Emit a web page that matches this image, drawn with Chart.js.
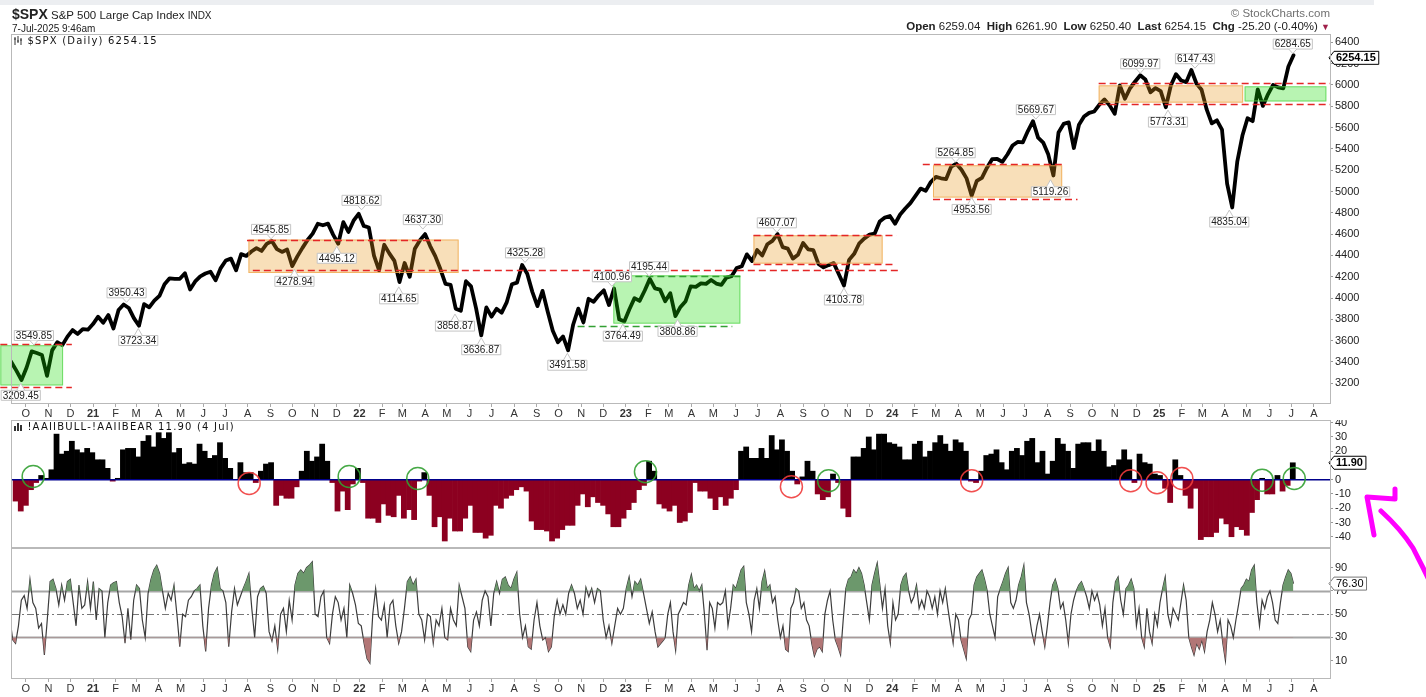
<!DOCTYPE html>
<html>
<head>
<meta charset="utf-8">
<title>$SPX</title>
<script src="https://cdn.jsdelivr.net/npm/chart.js@4.4.1/dist/chart.umd.min.js"></script>
<style>
  body { margin: 0; width: 1426px; height: 697px; overflow: hidden; background: #fff; position: relative;
         font-family: "Liberation Sans", Arial, sans-serif; color: #222; }
  canvas { position: absolute; left: 0; }
  .t { position: absolute; white-space: nowrap; line-height: 1; z-index: 2; }
  .leg { font-family: "DejaVu Sans", Verdana, sans-serif; font-size: 10px; letter-spacing: 1.2px; color: #111; }
</style>
</head>
<body>
<div style="position:absolute;left:0;top:0;width:1374px;height:5px;background:#eceef1"></div>
<div class="t" style="left:12px;top:7px;font-size:11.5px"><b style="font-size:14px">$SPX</b> S&amp;P 500 Large Cap Index <span style="font-size:10px">INDX</span></div>
<div class="t" style="left:12px;top:24px;font-size:10px">7-Jul-2025 9:46am</div>
<div class="t" style="right:96px;top:8px;font-size:11.5px;color:#707070">© StockCharts.com</div>
<div class="t" style="right:96px;top:21px;font-size:11.5px"><b>Open</b> 6259.04 &nbsp;<b>High</b> 6261.90 &nbsp;<b>Low</b> 6250.40 &nbsp;<b>Last</b> 6254.15 &nbsp;<b>Chg</b> -25.20 (-0.40%) <span style="color:#a0204a;font-size:9px">&#9660;</span></div>

<canvas id="c1" width="1426" height="420" style="top:0"></canvas>
<canvas id="c2" width="1426" height="128" style="top:420px"></canvas>
<canvas id="c3" width="1426" height="148" style="top:548px"></canvas>

<div class="t leg" style="left:14px;top:36px"><svg width="9" height="9" style="vertical-align:-1px"><path d="M1 1v8M4 0v7M7 2v7M0 3h2M3 5h2M6 4h2" stroke="#333" fill="none"/></svg> $SPX (Daily) 6254.15</div>
<div class="t leg" style="left:14px;top:422px"><svg width="9" height="9" style="vertical-align:-1px"><path d="M1 9V4M4 9V1M7 9V3" stroke="#333" stroke-width="2" fill="none"/></svg> !AAIIBULL-!AAIIBEAR 11.90 (4 Jul)</div>

<svg style="position:absolute;left:0;top:0;z-index:3" width="1426" height="697">
  <g fill="none" stroke="#ff00ff" stroke-width="5" stroke-linecap="round" stroke-linejoin="round">
    <path d="M1395,489 L1395,499 L1367,497 L1374,535"/>
    <path d="M1381,511 C1392,521 1404,534 1413,548 C1418,558 1423,567 1428,578"/>
  </g>
</svg>

<script>
// ---- data ----
const priceStart = '2020-09-11';          // first weekly value, then one value per week
const priceWeekly = [
  3400, 3319, 3230, 3348, 3500, 3484, 3465, 3270, 3509, 3585, 3558, 3638, 3699, 3663, 3709, 3703, 3756,
  3825, 3768, 3841, 3714, 3887, 3940, 3907, 3811, 3740, 3943, 3913, 3975, 4020, 4129, 4185, 4180, 4181,
  4233, 4080, 4156, 4204, 4230, 4247, 4166, 4281, 4352, 4370, 4260, 4412, 4395, 4437, 4468, 4442, 4509,
  4535, 4459, 4433, 4455, 4300, 4391, 4471, 4545, 4605, 4697, 4683, 4698, 4595, 4510, 4712, 4620, 4726, 4790,
  4677, 4662, 4398, 4260, 4500, 4419, 4349, 4150, 4329, 4200, 4463, 4543, 4600, 4488, 4393, 4272, 4132,
  4123, 3900, 3880, 4158, 4109, 3901, 3650, 3912, 3825, 3899, 3863, 3962, 4130, 4145, 4310, 4228, 4058,
  3924, 4067, 3873, 3693, 3586, 3640, 3510, 3752, 3901, 3771, 3993, 3965, 4026, 4072, 3934, 4090, 3800, 3780,
  3895, 3999, 3973, 4071, 4180, 4090, 4079, 3970, 4046, 3830, 3917, 3971, 4109, 4105, 4138, 4133, 4169,
  4136, 4124, 4192, 4205, 4282, 4299, 4410, 4348, 4450, 4399, 4505, 4536, 4600, 4478, 4464, 4370, 4406,
  4516, 4457, 4450, 4320, 4288, 4309, 4328, 4224, 4117, 4358, 4415, 4514, 4559, 4595, 4604, 4719, 4755, 4770,
  4697, 4784, 4840, 4891, 4959, 5027, 5006, 5089, 5137, 5124, 5117, 5234, 5260, 5204, 5123, 4960, 5100,
  5128, 5223, 5303, 5305, 5278, 5347, 5431, 5465, 5460, 5567, 5660, 5505, 5459, 5346, 5150, 5554, 5634,
  5648, 5408, 5626, 5703, 5738, 5751, 5815, 5864, 5808, 5729, 5995, 5870, 5969, 6032, 6090, 6051, 5931, 5971,
  5942, 5790, 5997, 6101, 6041, 6026, 6140, 6013, 5955, 5770, 5639, 5668, 5581, 5074, 4850, 5283, 5525,
  5687, 5660, 5958, 5803, 5912, 6000, 5977, 5968, 6173, 6279
];
const priceLast = 6254.15;
const priceTicks = [3200, 3400, 3600, 3800, 4000, 4200, 4400, 4600, 4800, 5000, 5200, 5400, 5600, 5800, 6000, 6200, 6400];

const pivotDates = ['2020-09-24','2020-10-12','2021-02-16','2021-03-04','2021-09-02','2021-10-04','2021-12-01',
  '2022-01-04','2022-02-24','2022-03-29','2022-05-12','2022-06-17','2022-08-16','2022-10-13','2022-12-13',
  '2022-12-28','2023-02-02','2023-03-13','2023-07-27','2023-10-27','2024-03-28','2024-04-19','2024-07-16',
  '2024-08-05','2024-12-06','2025-01-13','2025-02-19','2025-04-07','2025-07-03'];
const pivotValues = [3209.45, 3549.85, 3950.43, 3723.34, 4545.85, 4278.94, 4495.12, 4818.62, 4114.65, 4637.30,
  3858.87, 3636.87, 4325.28, 3491.58, 4100.96, 3764.49, 4195.44, 3808.86, 4607.07, 4103.78, 5264.85, 4953.56,
  5669.67, 5119.26, 6099.97, 5773.31, 6147.43, 4835.04, 6284.65];
const pivotSide = ['L','H','H','L','H','L','L','H','L','H','L','L','H','L','H','L','H','L','H','L','H','L','H','L','H','L','H','L','H'];

// shaded zones and dashed levels drawn on the price panel
const zoneFrom = ['2020-08-27','2021-08-02','2022-12-15','2023-06-25','2024-02-26','2024-10-10','2025-04-28'];
const zoneTo   = ['2020-11-21','2022-05-17','2023-06-07','2023-12-19','2024-08-21','2025-04-26','2025-08-18'];
const zoneLow  = [3180, 4235, 3760, 4323, 4943, 5834, 5845];
const zoneHigh = [3557, 4549, 4213, 4589, 5246, 5996, 5987];
const zoneKind = ['g','o','g','o','o','o','g'];

const levelFrom  = ['2020-08-27','2020-08-27','2021-07-31','2021-08-08','2022-12-15','2022-10-27','2023-06-25','2023-06-25','2024-02-12','2024-02-26','2024-10-10','2024-10-10'];
const levelTo    = ['2020-12-03','2020-12-03','2022-04-28','2024-01-12','2023-06-07','2023-05-27','2024-01-07','2024-01-04','2024-08-21','2024-09-11','2025-08-23','2025-08-23'];
const levelValue = [3566, 3168, 4549, 4260, 4206, 3738, 4589, 4323, 5262, 4933, 6018, 5821];
const levelKind  = ['r','r','r','r','g','g','r','r','r','r','r','r'];

// AAII bull-bear spread, one bar per week
const aaiiStart = '2020-09-17';
const aaiiWeekly = [
  -15, -22, -18, -7, -2, 3, 1, 7, 32, 18, 20, 27, 21, 19, 22, 19, 14, 14, 8, -1,
  1, 21, 22, 22, 16, 27, 31, 23, 33, 29, 33, 19, 22, 11, 12, 11, 25, 20, 15, 17,
  26, 15, 8, 0, 12, 5, 5, -2, 6, 11, 12, -18, -11, -13, -13, -5, 6, 20, 13, 16,
  25, 13, -2, -22, -8, -21, -3, 8, -2, -27, -27, -30, -17, -25, -26, -11, -27, -21, -28, -1,
  5, -11, -33, -26,
  -43, -27, -36, -36, -27, -18, -37, -37, -41, -39, -18, -20, -13, -11, -7, -5, -8, -29, -35, -35,
  -36, -43, -41, -35, -32, -32, -18, -10, -19, -12, -16, -18, -24, -33, -33, -27, -21, -16, -7, -4,
  13, 6, -17, -20,
  -22, -18, -30, -29, -23, -2, -8, -8, -13, -21, -12, -18, -13, -7, 20, 23, 15, 15, 22, 15,
  31, 21, 28, 20, 6, -3, 2, 13, 6, -10, -14, -12, 4, -2, -20, -26, 16, 16, 22, 30,
  21, 32, 32, 26, 25, 23, 14, 14, 25, 27, 16, 20, 26, 31, 25, 20, 28, 26, 20, -1,
  -2, 6, 17, 18, 21, 12, 7, 20, 22, 17, 27, 29, 12, 20, 4, 13, 29, 25, 20, 8,
  25, 26, 26, 20, 28, 20, 9, 10, 14, 21, 14, -2, 18, 12, 11, 4, 3, -6, -16, 14,
  3, -11, -20, -6, -42, -40, -40, -37, -27, -31, -40, -33, -35, -39, -23, -14, 1, -10, -10, 3,
  -8, -4, 11.9
];
const aaiiTicks = [-40, -30, -20, -10, 0, 10, 20, 30, 40];

const circleDates  = ['2020-10-11','2021-08-03','2021-12-18','2022-03-22','2023-01-28','2023-08-16','2023-10-06','2024-04-19','2024-11-23','2024-12-29','2025-02-01','2025-05-22','2025-07-05'];
const circleValues = [2.3, -2.6, 2.3, 0.9, 5.6, -4.9, -0.7, -0.7, -0.7, -2.1, 0.9, -0.3, 0.9];
const circleKind   = ['g','r','g','g','g','r','g','r','r','r','r','g','g'];

// oscillator, two stretches read separately, values spread evenly across each stretch
const oscPart1Range = ['2020-09-09', '2023-02-22'];
const oscPart1 = [
  47,28,25,40,62,66,55,80,60,55, 38,42,15,45,78,80,72,58,75,62, 78,80,60,40,75,55,58,78,55,78,
  45,72,70,30,60,75,77,78,60,48, 25,55,28,62,75,72,45,30,68,80, 88,92,85,70,55,68,62,75,50,22,
  50,48,62,65,70,72,75,40,18,55, 75,85,90,72,70,60,22,52,72,58, 65,72,78,85,55,30,65,72,74,68,
  35,27,40,20,50,55,35,62,45,75, 85,88,85,90,92,95,50,48,65,70, 30,25,50,65,60,45,55,30,75,68,
  58,42,40,25,12,8,50,72,48,45, 58,30,58,62,40,25,35,55,78,82, 75,80,50,45,28,50,48,25,45,40,
  55,30,28,55,45,40,75,65,55,22, 18,45,52,40,62,70,65,40,68,78, 68,80,82,75,72,80,86,50,30,40,
  22,20,45,60,40,28,30,18,22,48, 62,50,58,50,68,75,68,55,62,50, 73,65,72,60,72,70,45,30,40,25,
  40,55,50,55,72,82,65,78,75,80, 68,55,42,52,35,22,25,28
];
const oscPart2Range = ['2023-02-24', '2025-07-04'];
const oscPart2 = [
  30,50,60,35,19,50,55,60,58,75, 84,72,75,70,75,50,19,60,55,38, 60,58,60,70,40,55,75,72,80,88,
  91,60,50,35,62,72,55,78,87,72, 75,60,65,45,30,40,20,18,55,60, 72,70,55,60,45,40,25,14,20,22,
  18,50,62,70,45,28,22,15,45,72, 80,82,88,85,90,85,75,60,45,75, 85,94,75,55,72,40,25,60,45,50,
  75,82,85,70,60,65,75,55,62,55, 70,65,55,65,50,70,60,72,55,40, 25,50,45,28,20,12,45,50,75,82,
  85,88,80,70,50,40,30,65,72,78, 85,90,60,55,62,75,82,92,60,50, 35,25,40,50,35,22,40,60,75,80,
  72,55,60,45,25,50,62,70,75,78, 72,65,55,70,62,68,58,40,55,30, 22,60,78,82,62,50,72,75,80,72,
  40,55,30,22,55,35,25,50,40,60, 72,82,50,40,55,50,45,60,75,62, 30,22,15,25,20,28,18,35,45,60,
  50,35,45,25,10,45,40,30,45,58, 72,75,80,78,88,92,60,40,62,55, 65,70,60,45,42,60,75,82,88,85,76.3
];
const oscTicks = [10, 30, 50, 70, 90];
const oscLevels = [30, 50, 70];

const monthLetters = ['J','F','M','A','M','J','J','A','S','O','N','D'];

// ---- helpers ----
const DAY = 86400000;
const BASE = Date.UTC(2021, 0, 1);
function dayNum(s) {
  const p = s.split('-').map(Number);
  return (Date.UTC(p[0], p[1] - 1, p[2]) - BASE) / DAY;
}
const xMin = -111, xMax = 1695;

const monthTicks = [];
for (let y = 2020; y <= 2025; y++) {
  for (let m = 0; m < 12; m++) {
    const d = (Date.UTC(y, m, 1) - BASE) / DAY;
    if (d >= xMin && d <= xMax) {
      monthTicks.push({ value: d, label: m === 0 ? String(y).slice(2) : monthLetters[m], year: m === 0 });
    }
  }
}

function weekly(start, vals) {
  const d0 = dayNum(start);
  return vals.map((v, i) => ({ x: d0 + i * 7, y: v }));
}
function spread(range, vals) {
  const a = dayNum(range[0]), b = dayNum(range[1]);
  return vals.map((v, i) => ({ x: a + (b - a) * i / (vals.length - 1), y: v }));
}

const FONT = '"Liberation Sans", Arial, sans-serif';
Chart.defaults.font.family = FONT;

function yAxis(min, max, ticks) {
  return {
    type: 'linear', position: 'right', min: min, max: max,
    grid: { drawOnChartArea: false, drawTicks: true, tickLength: 3, color: '#999' },
    border: { display: false },
    ticks: { font: { size: 11 }, color: '#222', padding: 2, crossAlign: 'near', autoSkip: false,
             callback: v => String(v) },
    afterBuildTicks: s => { s.ticks = ticks.map(v => ({ value: v })); },
    afterFit: s => { s.width = 96; s.paddingTop = 0; s.paddingBottom = 0; }
  };
}
function xAxis(height) {
  return {
    type: 'linear', min: xMin, max: xMax, offset: false, display: height > 0,
    grid: { drawOnChartArea: false, drawTicks: true, tickLength: 3, color: '#aaa', offset: false },
    border: { display: false },
    ticks: {
      autoSkip: false, maxRotation: 0, padding: 0, color: '#333',
      font: c => ({ size: 11, weight: monthTicks[c.index] && monthTicks[c.index].year ? 'bold' : 'normal' }),
      callback: (v, i) => monthTicks[i] ? monthTicks[i].label : ''
    },
    afterBuildTicks: s => { s.ticks = monthTicks.map(t => ({ value: t.value })); },
    afterFit: s => { if (height > 0) s.height = height; s.paddingLeft = 0; s.paddingRight = 0; }
  };
}
function baseOptions(scales, padTop) {
  return {
    responsive: false, animation: false, events: [],
    layout: { padding: { left: 12, top: padTop, right: 0, bottom: 0 } },
    plugins: { legend: { display: false }, tooltip: { enabled: false } },
    scales: scales
  };
}

const framePlugin = {
  id: 'frame',
  afterDraw(chart) {
    const a = chart.chartArea, ctx = chart.ctx;
    ctx.save();
    ctx.strokeStyle = '#b9b9b9';
    ctx.lineWidth = 1;
    ctx.strokeRect(a.left - 0.5, a.top + 0.5, a.right - a.left + 1, a.bottom - a.top - 1);
    ctx.restore();
  }
};

function drawTag(chart, value, text, bold, border) {
  const ctx = chart.ctx, x = chart.chartArea.right - 1, y = chart.scales.y.getPixelForValue(value);
  ctx.save();
  ctx.font = (bold ? 'bold ' : '') + '11px ' + FONT;
  const w = ctx.measureText(text).width + 5, h = 13;
  ctx.beginPath();
  ctx.moveTo(x, y);
  ctx.lineTo(x + 5, y - h / 2);
  ctx.lineTo(x + 5 + w, y - h / 2);
  ctx.lineTo(x + 5 + w, y + h / 2);
  ctx.lineTo(x + 5, y + h / 2);
  ctx.closePath();
  ctx.fillStyle = '#fff';
  ctx.fill();
  ctx.strokeStyle = border;
  ctx.lineWidth = 1;
  ctx.stroke();
  ctx.fillStyle = '#000';
  ctx.textBaseline = 'middle';
  ctx.fillText(text, x + 7, y + 0.5);
  ctx.restore();
}

// ---- price panel ----
const pricePlugin = {
  id: 'priceMarks',
  afterDatasetsDraw(chart) {
    const ctx = chart.ctx, xs = chart.scales.x, ys = chart.scales.y;
    ctx.save();
    zoneFrom.forEach((f, i) => {
      const x0 = xs.getPixelForValue(dayNum(f)), x1 = xs.getPixelForValue(dayNum(zoneTo[i]));
      const y0 = ys.getPixelForValue(zoneLow[i]), y1 = ys.getPixelForValue(zoneHigh[i]);
      ctx.fillStyle = zoneKind[i] === 'g' ? 'rgba(20,220,0,0.3)' : 'rgba(232,148,22,0.3)';
      ctx.fillRect(x0, y1, x1 - x0, y0 - y1);
      ctx.strokeStyle = zoneKind[i] === 'g' ? 'rgba(90,215,80,0.8)' : 'rgba(240,170,80,0.8)';
      ctx.lineWidth = 1;
      ctx.strokeRect(x0 + 0.5, y1 + 0.5, x1 - x0 - 1, y0 - y1 - 1);
    });
    ctx.lineWidth = 1.5;
    ctx.setLineDash([7, 4]);
    levelFrom.forEach((f, i) => {
      const y = Math.round(ys.getPixelForValue(levelValue[i])) + 0.5;
      ctx.strokeStyle = levelKind[i] === 'g' ? '#33a033' : '#e42626';
      ctx.beginPath();
      ctx.moveTo(xs.getPixelForValue(dayNum(f)), y);
      ctx.lineTo(xs.getPixelForValue(dayNum(levelTo[i])), y);
      ctx.stroke();
    });
    ctx.setLineDash([]);
    ctx.font = '10px ' + FONT;
    ctx.textBaseline = 'middle';
    ctx.textAlign = 'center';
    pivotDates.forEach((d, i) => {
      const px = xs.getPixelForValue(dayNum(d)), py = ys.getPixelForValue(pivotValues[i]);
      const text = pivotValues[i].toFixed(2);
      const w = ctx.measureText(text).width + 4, h = 11;
      const high = pivotSide[i] === 'H';
      const cy = high ? py - 10.5 : py + 13;
      const cx = Math.max(px, w / 2);
      const top = cy - h / 2, bot = cy + h / 2;
      ctx.fillStyle = '#fff';
      ctx.strokeStyle = '#c4c4c4';
      ctx.lineWidth = 1;
      ctx.beginPath();
      ctx.rect(cx - w / 2 + 0.5, top + 0.5, w - 1, h - 1);
      ctx.fill();
      ctx.stroke();
      ctx.beginPath();
      if (high) {
        ctx.moveTo(px - 4, bot - 0.5); ctx.lineTo(px, py - 1); ctx.lineTo(px + 4, bot - 0.5);
      } else {
        ctx.moveTo(px - 4, top + 0.5); ctx.lineTo(px, py + 1); ctx.lineTo(px + 4, top + 0.5);
      }
      ctx.fill();
      ctx.stroke();
      ctx.fillStyle = '#222';
      ctx.fillText(text, cx, cy + 0.5);
    });
    ctx.restore();
  },
  afterDraw(chart) {
    drawTag(chart, priceLast, priceLast.toFixed(2), true, '#000');
  }
};

new Chart(document.getElementById('c1'), {
  type: 'line',
  data: {
    datasets: [{
      data: weekly(priceStart, priceWeekly),
      borderColor: '#000', borderWidth: 3.8, pointRadius: 0, tension: 0,
      borderJoinStyle: 'round', borderCapStyle: 'round'
    }]
  },
  options: baseOptions({ x: xAxis(16), y: yAxis(3005.7, 6477.9, priceTicks) }, 34),
  plugins: [pricePlugin, framePlugin]
});

// ---- AAII spread panel ----
const aaiiPlugin = {
  id: 'aaiiMarks',
  afterDatasetsDraw(chart) {
    const ctx = chart.ctx, xs = chart.scales.x, ys = chart.scales.y, a = chart.chartArea;
    ctx.save();
    const y0 = ys.getPixelForValue(0);
    ctx.strokeStyle = '#00008b';
    ctx.lineWidth = 1.5;
    ctx.beginPath();
    ctx.moveTo(a.left, y0);
    ctx.lineTo(a.right, y0);
    ctx.stroke();
    circleDates.forEach((d, i) => {
      ctx.strokeStyle = circleKind[i] === 'g' ? 'rgba(50,160,50,0.9)' : 'rgba(240,60,60,0.9)';
      ctx.beginPath();
      ctx.arc(xs.getPixelForValue(dayNum(d)), ys.getPixelForValue(circleValues[i]), 11, 0, Math.PI * 2);
      ctx.stroke();
    });
    ctx.restore();
  },
  afterDraw(chart) {
    const last = aaiiWeekly[aaiiWeekly.length - 1];
    drawTag(chart, last, last.toFixed(2), true, '#000');
  }
};

new Chart(document.getElementById('c2'), {
  type: 'bar',
  data: {
    datasets: [{
      data: weekly(aaiiStart, aaiiWeekly),
      backgroundColor: c => (c.raw && c.raw.y < 0) ? 'rgb(140,0,32)' : '#000',
      borderWidth: 0, barPercentage: 1, categoryPercentage: 1, grouped: false
    }]
  },
  options: baseOptions({ x: xAxis(0), y: yAxis(-47.9, 41.9, aaiiTicks) }, 0),
  plugins: [aaiiPlugin, framePlugin]
});

// ---- oscillator panel ----
const oscPoints = spread(oscPart1Range, oscPart1).concat(spread(oscPart2Range, oscPart2));
const oscPlugin = {
  id: 'oscMarks',
  beforeDatasetsDraw(chart) {
    const ctx = chart.ctx, ys = chart.scales.y, a = chart.chartArea;
    ctx.save();
    oscLevels.forEach(v => {
      const y = Math.round(ys.getPixelForValue(v)) + 0.5;
      if (v === 50) {
        ctx.strokeStyle = '#777'; ctx.lineWidth = 1; ctx.setLineDash([7, 3, 2, 3]);
      } else {
        ctx.strokeStyle = '#a6a6a6'; ctx.lineWidth = 2; ctx.setLineDash([]);
      }
      ctx.beginPath();
      ctx.moveTo(a.left, y);
      ctx.lineTo(a.right, y);
      ctx.stroke();
    });
    ctx.restore();
  },
  afterDraw(chart) {
    const last = oscPart2[oscPart2.length - 1];
    drawTag(chart, last, last.toFixed(2), false, '#777');
  }
};

new Chart(document.getElementById('c3'), {
  type: 'line',
  data: {
    datasets: [
      { data: oscPoints, borderWidth: 0, pointRadius: 0, tension: 0,
        fill: { target: { value: 70 }, above: 'rgb(108,152,108)', below: 'rgba(0,0,0,0)' } },
      { data: oscPoints, borderWidth: 0, pointRadius: 0, tension: 0,
        fill: { target: { value: 30 }, above: 'rgba(0,0,0,0)', below: 'rgb(178,118,118)' } },
      { data: oscPoints, borderColor: '#3c3c3c', borderWidth: 1.2, pointRadius: 0, tension: 0, fill: false }
    ]
  },
  options: baseOptions({ x: xAxis(17), y: yAxis(-5.7, 106.9, oscTicks) }, 0),
  plugins: [oscPlugin, framePlugin]
});
</script>
</body>
</html>
